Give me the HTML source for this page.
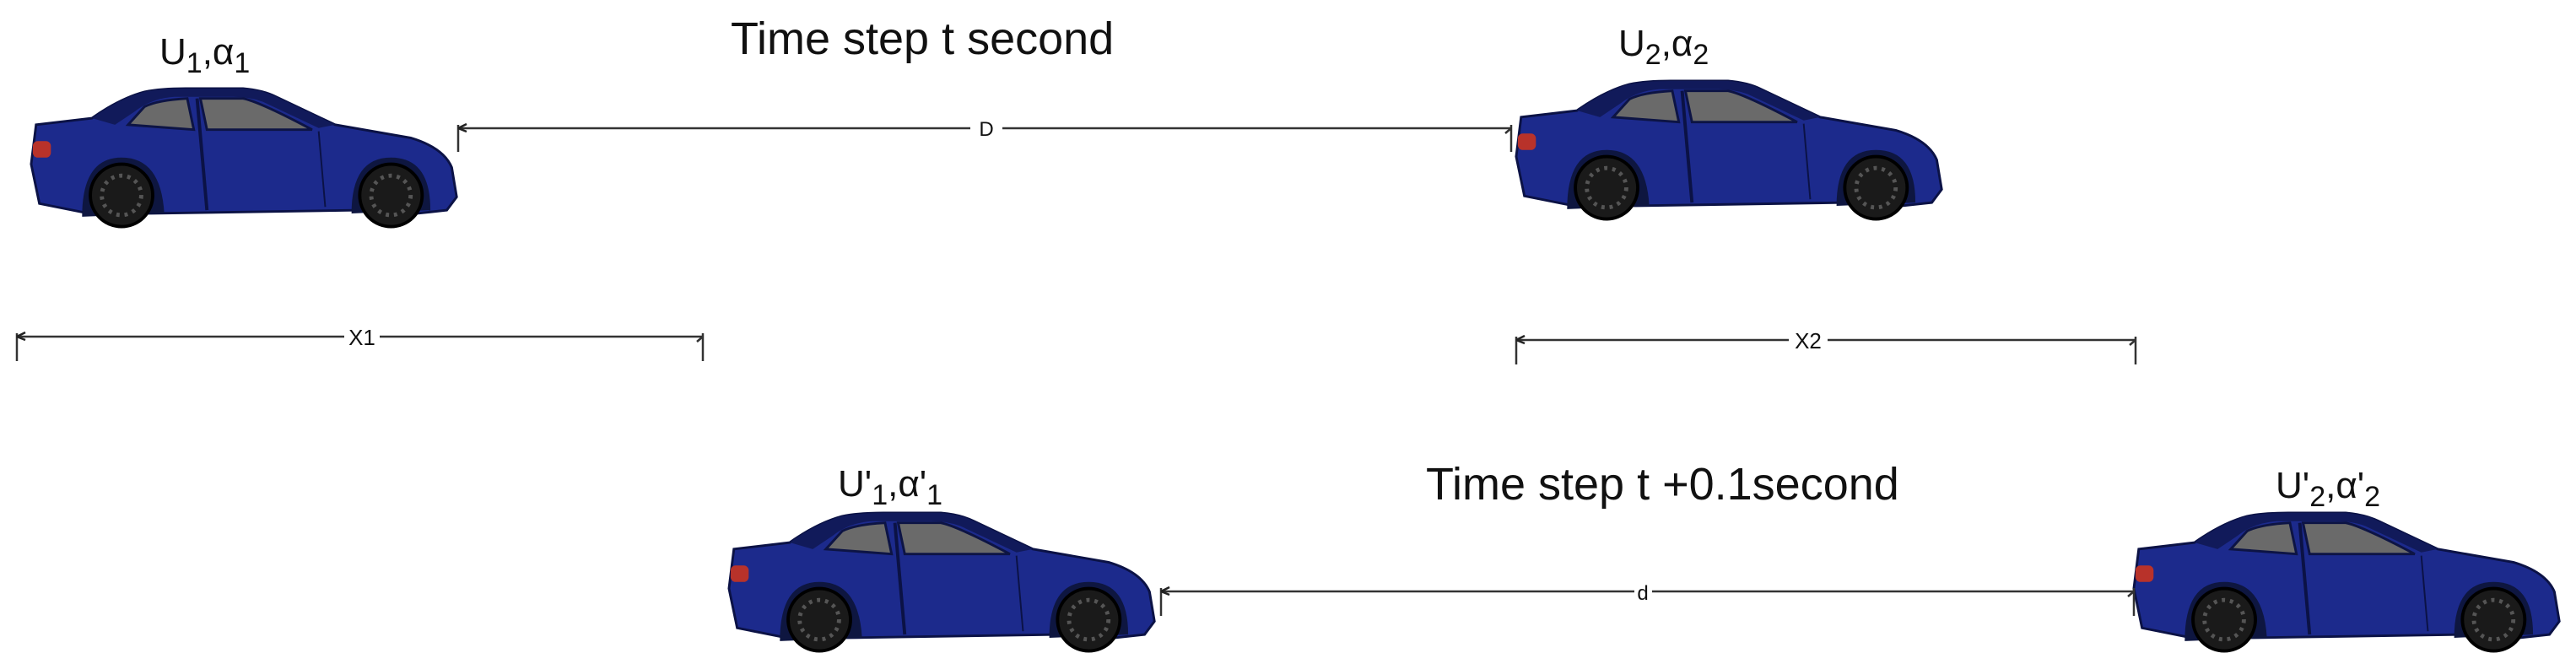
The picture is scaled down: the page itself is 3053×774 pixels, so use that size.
<!DOCTYPE html>
<html><head><meta charset="utf-8"><style>
html,body{margin:0;padding:0;background:#fff;}
svg{display:block;}
text{font-family:"Liberation Sans",Arial,sans-serif;fill:#111;}
</style></head><body>
<svg width="3053" height="774" viewBox="0 0 3053 774" xmlns="http://www.w3.org/2000/svg">
<defs>
<g id="car">
  <path d="M4,22 L38,18 Q55,6 70,2 Q80,0 95,0 L130,0 Q142,1 150,5 L186,22 L232,30 Q252,36 257,48 L260,66 L254,74 L236,76 L202,74 L74,76 L36,76 L6,70 L1,46 Z" fill="#1c2a8c" stroke="#0b1245" stroke-width="1.5"/>
  <path d="M38,18 Q55,6 70,2 Q80,0 95,0 L130,0 Q142,1 150,5 L186,22 L176,24 L142,8 Q134,5 124,5 L88,5 Q74,6 64,14 L52,22 Z" fill="#111a5a"/>
  <path d="M60,22 L70,11 Q78,7 96,6 L100,25 Z" fill="#6a6a6a" stroke="#0d1444" stroke-width="1.5"/>
  <path d="M104,6 L130,6 Q140,8 172,25 L108,25 Z" fill="#6a6a6a" stroke="#0d1444" stroke-width="1.5"/>
  <line x1="102" y1="6" x2="108" y2="74" stroke="#0b1245" stroke-width="2"/>
  <line x1="176" y1="26" x2="180" y2="72" stroke="#0b1245" stroke-width="1"/>
  <rect x="2" y="32" width="11" height="10" rx="3" fill="#b8322a"/>
  <path d="M32,78 Q32,42 56,42 Q80,42 82,76 Z" fill="#0e1640"/>
  <path d="M196,76 Q196,42 220,42 Q244,42 244,74 Z" fill="#0e1640"/>
  <circle cx="56" cy="65" r="19" fill="#1a1a1a" stroke="#000" stroke-width="2"/>
  <circle cx="56" cy="65" r="12" fill="none" stroke="#555" stroke-width="2.5" stroke-dasharray="2 3"/>
  <circle cx="220" cy="65" r="19" fill="#1a1a1a" stroke="#000" stroke-width="2"/>
  <circle cx="220" cy="65" r="12" fill="none" stroke="#555" stroke-width="2.5" stroke-dasharray="2 3"/>
</g>
<g id="arr">
  <path d="M0,0 L10,-5 M0,0 L10,4" stroke="#222" stroke-width="2.5" fill="none"/>
</g>
</defs>

<use href="#car" transform="translate(35,105) scale(1.947)"/>
<use href="#car" transform="translate(1795,96) scale(1.947)"/>
<use href="#car" transform="translate(862,608) scale(1.947)"/>
<use href="#car" transform="translate(2527,608) scale(1.947)"/>

<g stroke="#333" stroke-width="2.5" fill="none">
  <line x1="543" y1="152" x2="1150" y2="152"/><line x1="1188" y1="152" x2="1791" y2="152"/>
  <line x1="543" y1="148" x2="543" y2="180"/><line x1="1791" y1="148" x2="1791" y2="180"/>
  <line x1="20" y1="399" x2="408" y2="399"/><line x1="450" y1="399" x2="833" y2="399"/>
  <line x1="20" y1="395" x2="20" y2="428"/><line x1="833" y1="395" x2="833" y2="428"/>
  <line x1="1797" y1="403" x2="2120" y2="403"/><line x1="2166" y1="403" x2="2531" y2="403"/>
  <line x1="1797" y1="399" x2="1797" y2="432"/><line x1="2531" y1="399" x2="2531" y2="432"/>
  <line x1="1376" y1="701" x2="1937" y2="701"/><line x1="1958" y1="701" x2="2529" y2="701"/>
  <line x1="1376" y1="697" x2="1376" y2="730"/><line x1="2529" y1="697" x2="2529" y2="730"/>
</g>
<use href="#arr" transform="translate(543,152)"/>
<use href="#arr" transform="translate(20,399)"/>
<use href="#arr" transform="translate(1797,403)"/>
<use href="#arr" transform="translate(1376,701)"/>
<g stroke="#333" stroke-width="2.5" fill="none">
  <path d="M833,399 L826,405 M2531,403 L2524,409 M1791,152 L1784,158 M2529,701 L2522,707"/>
</g>

<text x="1169" y="161" font-size="24" text-anchor="middle">D</text>
<text x="429" y="409" font-size="26" text-anchor="middle">X1</text>
<text x="2143" y="413" font-size="26" text-anchor="middle">X2</text>
<text x="1947" y="711" font-size="24" text-anchor="middle">d</text>

<text x="866" y="64" font-size="54">Time step t second</text>
<text x="1690" y="592" font-size="54">Time step t +0.1second</text>

<text x="189" y="76" font-size="44">U<tspan font-size="34" dy="10">1</tspan><tspan dy="-10">,α</tspan><tspan font-size="34" dy="10">1</tspan></text>
<text x="1918" y="66" font-size="44">U<tspan font-size="34" dy="10">2</tspan><tspan dy="-10">,α</tspan><tspan font-size="34" dy="10">2</tspan></text>
<text x="993" y="588" font-size="44">U'<tspan font-size="34" dy="10">1</tspan><tspan dy="-10">,α'</tspan><tspan font-size="34" dy="10">1</tspan></text>
<text x="2697" y="590" font-size="44">U'<tspan font-size="34" dy="10">2</tspan><tspan dy="-10">,α'</tspan><tspan font-size="34" dy="10">2</tspan></text>
</svg>
</body></html>
